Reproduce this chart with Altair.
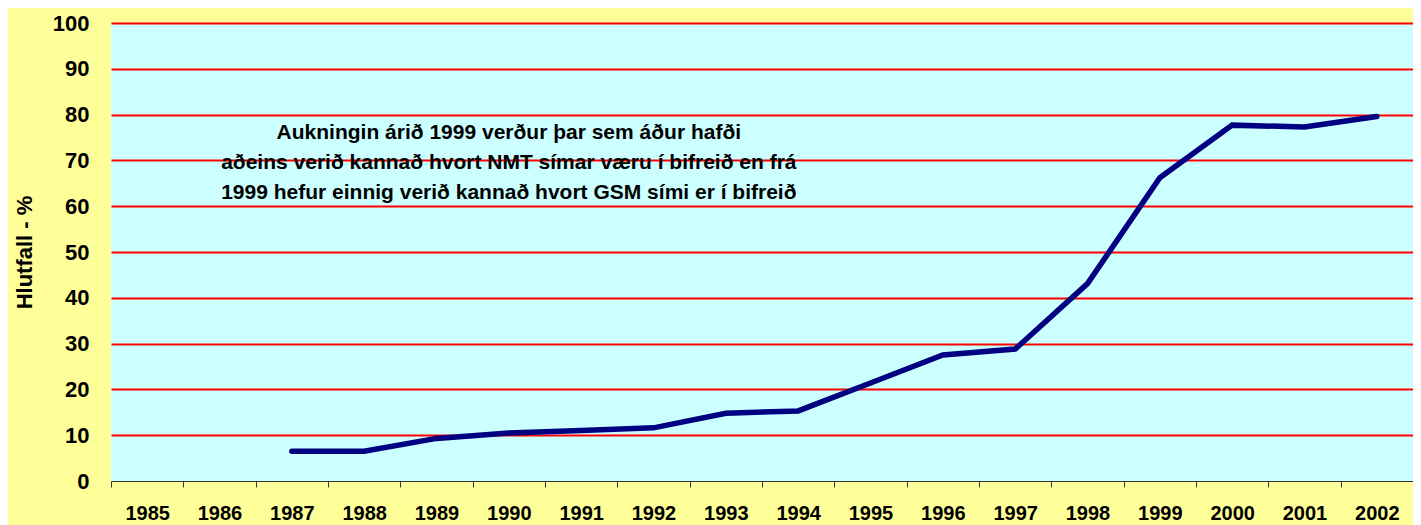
import altair as alt
import pandas as pd

years = list(range(1985, 2003))
line_years = list(range(1987, 2003))
share = [6.5, 6.5, 9.3, 10.5, 11.0, 11.6, 14.8, 15.3, 21.4, 27.5, 28.8, 43.1, 66.2, 77.7, 77.3, 79.6]
y_ticks = list(range(0, 101, 10))
note_lines = [
    "Aukningin árið 1999 verður þar sem áður hafði",
    "aðeins verið kannað hvort NMT símar væru í bifreið en frá",
    "1999 hefur einnig verið kannað hvort GSM sími er í bifreið",
]
note_year = 1990
note_value = 76

FONT = "Liberation Sans"
PLOT_W = 1302
PLOT_H = 458

x_bounds = [y - 0.5 for y in years] + [years[-1] + 0.5]

df = pd.DataFrame({"year": line_years, "share": share})
note_df = pd.DataFrame({"year": [note_year], "share": [note_value], "txt": ["\n".join(note_lines)]})

x_enc = alt.X(
    "year:Q",
    scale=alt.Scale(domain=[x_bounds[0], x_bounds[-1]], nice=False, zero=False),
    axis=alt.Axis(
        title=None,
        values=x_bounds,
        labelExpr=f"datum.value > {years[-1]} ? '' : toString(datum.value + 0.5)",
        labelOffset=PLOT_W / len(years) / 2,
        labelAlign="center",
        labelBaseline="alphabetic",
        labelFlush=False,
        labelOverlap=False,
        labelAngle=0,
        grid=False,
        domainColor="#333333",
        domainWidth=1,
        tickColor="#333333",
        tickSize=6,
        labelPadding=32,
        labelFont=FONT,
        labelFontSize=20,
        labelFontWeight="bold",
        labelColor="#000000",
        zindex=1,
    ),
)
y_enc = alt.Y(
    "share:Q",
    scale=alt.Scale(domain=[0, 100], nice=False),
    axis=alt.Axis(
        values=y_ticks,
        title="Hlutfall - %",
        titleFont=FONT,
        titleFontSize=22,
        titleFontWeight="bold",
        titleColor="#000000",
        titlePadding=16,
        domain=False,
        ticks=False,
        grid=True,
        gridColor={"condition": {"test": "datum.value === 0", "value": "transparent"}, "value": "#FF0000"},
        gridWidth=2,
        labelPadding=22,
        labelFont=FONT,
        labelFontSize=22,
        labelFontWeight="bold",
        labelColor="#000000",
    ),
)

line = alt.Chart(df).mark_line(color="#000080", strokeWidth=5.5, strokeCap="round").encode(x=x_enc, y=y_enc)

note = alt.Chart(note_df).mark_text(
    font=FONT,
    fontSize=21,
    fontWeight="bold",
    color="#000000",
    align="center",
    baseline="middle",
    lineBreak="\n",
    lineHeight=30,
).encode(x=x_enc, y=y_enc, text="txt:N")

chart = (
    alt.layer(line, note)
    .properties(
        width=PLOT_W,
        height=PLOT_H,
        background="#FFFF99",
        autosize=alt.AutoSizeParams(type="none"),
        padding={"left": 103, "top": 15, "right": 0, "bottom": 45},
    )
    .configure_view(fill="#CCFFFF", stroke=None)
)

chart.save("out.html", embed_options={"renderer": "svg", "actions": False})
